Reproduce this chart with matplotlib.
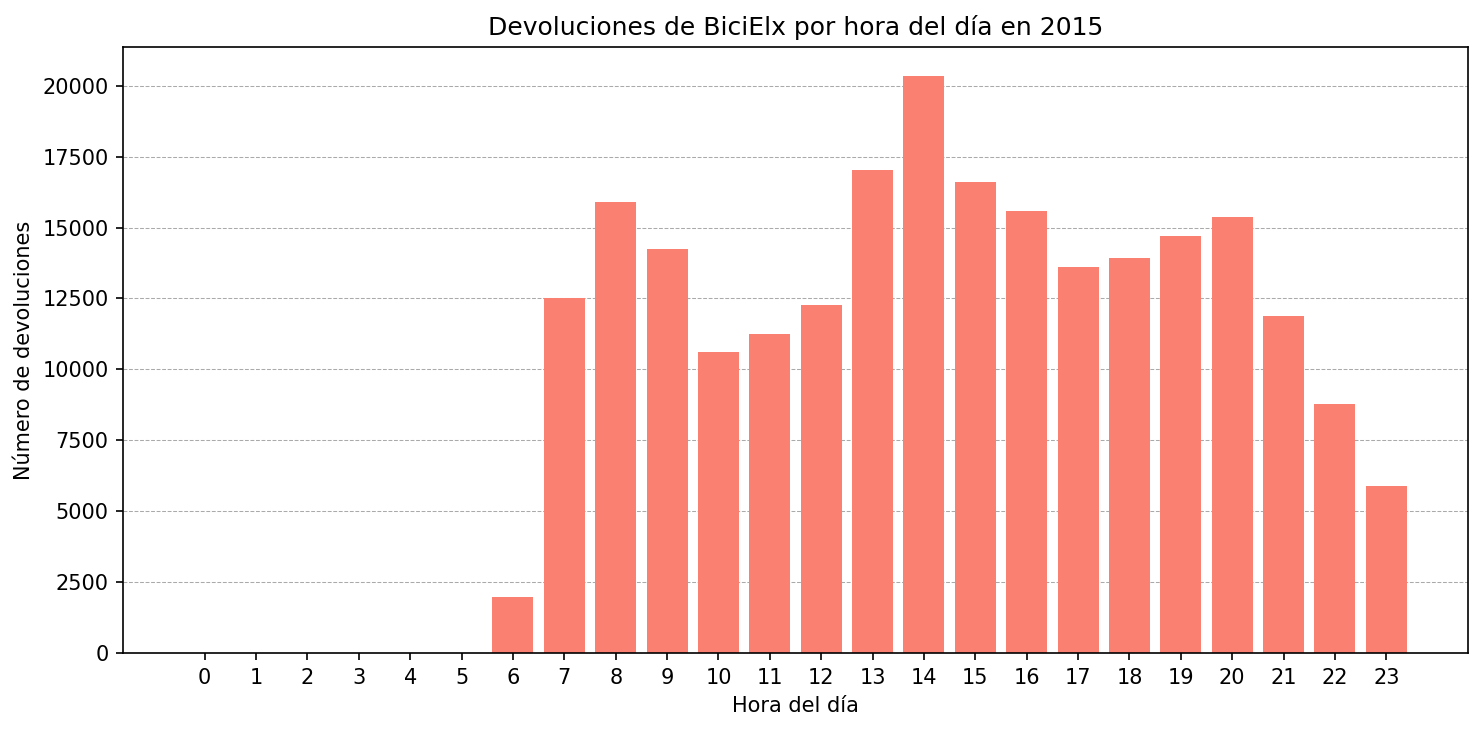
import matplotlib
matplotlib.use("Agg")
import matplotlib.pyplot as plt

horas = list(range(24))
devoluciones = [0, 0, 0, 0, 0, 0, 1975, 12520, 15910, 14250, 10620, 11250,
                12280, 17040, 20350, 16610, 15590, 13620, 13930, 14710,
                15380, 11890, 8780, 5890]

fig, ax = plt.subplots(figsize=(1484 / 150, 731 / 150), dpi=150)
ax.bar(horas, devoluciones, color="salmon", zorder=2)
ax.set_xticks(horas)
ax.set_title("Devoluciones de BiciElx por hora del día en 2015", fontsize=12)
ax.set_xlabel("Hora del día")
ax.set_ylabel("Número de devoluciones")
ax.grid(axis="y", linestyle="--", linewidth=0.5, color="#aaaaaa", zorder=0)

fig.subplots_adjust(left=0.0829, right=0.9892, top=0.9357, bottom=0.1067)
fig.savefig("out.png")
